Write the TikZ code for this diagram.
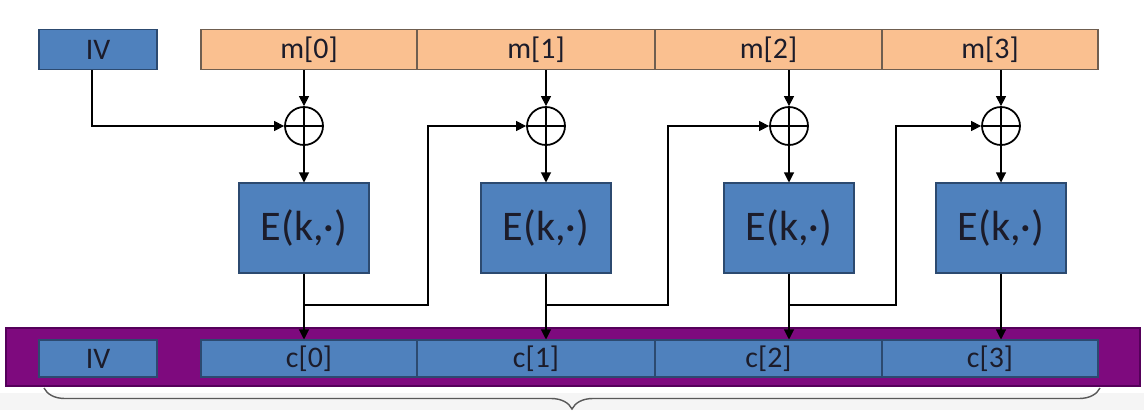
\documentclass[tikz,border=0pt]{standalone}
\usepackage{fontspec}
\setmainfont{Carlito}
\usetikzlibrary{arrows.meta}
\usetikzlibrary{decorations.pathreplacing}
\definecolor{blkblue}{HTML}{4F81BD}
\definecolor{blkedge}{HTML}{2C4A70}
\definecolor{msgorange}{HTML}{FAC090}
\definecolor{msgedge}{HTML}{6F5E50}
\definecolor{bandpurple}{HTML}{7E0A7E}
\definecolor{bandedge}{HTML}{55005A}
\definecolor{txt}{HTML}{1C1C2A}

\begin{document}
\begin{tikzpicture}
		[x={0.02cm}, y={-0.02cm}, line width=0.6pt,
		cell/.style = {draw, minimum height=0.8cm, inner sep=0pt, text=txt, font=\fontsize{17}{17}\selectfont},
		msg/.style = {cell, fill=msgorange, draw=msgedge},
		ctx/.style = {cell, fill=blkblue, draw=blkedge, minimum height=0.74cm},
		enc/.style = {draw=blkedge, fill=blkblue, minimum width=2.6cm, minimum height=1.8cm, text=txt, font=\fontsize{24}{24}\selectfont},
		xorop/.style = {circle, draw, line width=1pt, minimum size=0.76cm, inner sep=0pt,
			path picture={\draw[line width=1pt] (path picture bounding box.north) -- (path picture bounding box.south)
				(path picture bounding box.west) -- (path picture bounding box.east);}},
		arr/.style = {-{Triangle[length=2mm,width=2mm]}}]
	\useasboundingbox (0,0) rectangle (1144,410);
	\fill[gray!8] (0,393) rectangle (1144,410);
	% top row: IV and message blocks
	\node[cell, fill=blkblue, draw=blkedge, minimum width=2.36cm] (ivt) at (98,49.5) {IV};
	\node[msg, minimum width=4.32cm] (m0) at (309,49.5) {m[0]};
	\node[msg, minimum width=4.76cm] (m1) at (536,49.5) {m[1]};
	\node[msg, minimum width=4.54cm] (m2) at (768.5,49.5) {m[2]};
	\node[msg, minimum width=4.32cm] (m3) at (990,49.5) {m[3]};
	% xor and cipher blocks
	\node[xorop] (x0) at (304,126) {};
	\node[xorop] (x1) at (546,126) {};
	\node[xorop] (x2) at (789,126) {};
	\node[xorop] (x3) at (1001,126) {};
	\node[enc] (e0) at (304,228) {E(k,·)};
	\node[enc] (e1) at (546,228) {E(k,·)};
	\node[enc] (e2) at (789,228) {E(k,·)};
	\node[enc] (e3) at (1001,228) {E(k,·)};
	% ciphertext band
	\draw[fill=bandpurple, draw=bandedge] (6,328) rectangle (1140,386);
	\node[ctx, minimum width=2.36cm] (ivc) at (98,358.5) {IV};
	\node[ctx, minimum width=4.32cm] (c0) at (309,358.5) {c[0]};
	\node[ctx, minimum width=4.76cm] (c1) at (536,358.5) {c[1]};
	\node[ctx, minimum width=4.54cm] (c2) at (768.5,358.5) {c[2]};
	\node[ctx, minimum width=4.32cm] (c3) at (990,358.5) {c[3]};
	% arrows
	\draw[arr] ([xshift=-0.12cm]ivt.south) |- (x0);
	\draw[arr] (m0.south -| x0) -- (x0);
	\draw[arr] (m1.south -| x1) -- (x1);
	\draw[arr] (m2.south -| x2) -- (x2);
	\draw[arr] (m3.south -| x3) -- (x3);
	\draw[arr] (x0) -- (e0);
	\draw[arr] (x1) -- (e1);
	\draw[arr] (x2) -- (e2);
	\draw[arr] (x3) -- (e3);
	\draw[arr] (e0) -- (c0.north -| e0);
	\draw[arr] (e1) -- (c1.north -| e1);
	\draw[arr] (e2) -- (c2.north -| e2);
	\draw[arr] (e3) -- (c3.north -| e3);
	% chaining
	\coordinate (t0) at (304,305);
	\coordinate (t1) at (546,305);
	\coordinate (t2) at (789,305);
	\draw[arr] (t0) -- (428,305) |- (x1);
	\draw[arr] (t1) -- (668,305) |- (x2);
	\draw[arr] (t2) -- (896,305) |- (x3);
	% brace
	\draw[gray!70!black, line width=0.8pt, decorate, decoration={brace, mirror, amplitude=0.42cm}] (44,388) -- (1100,388);
\end{tikzpicture}
\end{document}
